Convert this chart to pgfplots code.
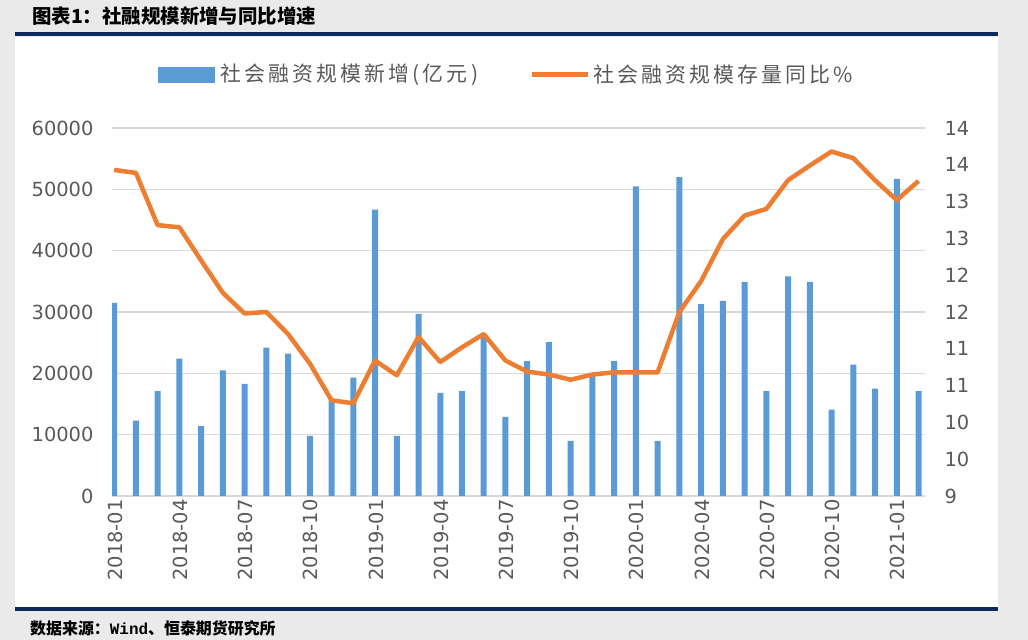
\documentclass[border=0pt]{standalone}
\usepackage{fontspec}
\usepackage{pgfplots}
\usepackage{pgfplotstable}
\pgfplotsset{compat=1.18}
\setmainfont{DejaVu Sans}
\newfontfamily\cjk{Noto Sans CJK SC}
\newfontfamily\cjkls[LetterSpace=15]{Noto Sans CJK SC}
\newfontfamily\mono{Liberation Mono}
\definecolor{barblue}{HTML}{5B9BD5}
\definecolor{lineorange}{HTML}{ED7D31}
\definecolor{navy}{HTML}{0E2A5C}
\definecolor{txtgray}{HTML}{595959}
\definecolor{gridgray}{HTML}{D9D9D9}
\definecolor{bggray}{HTML}{EAEAEA}

\pgfplotstableread{
idx flow yoy
0 31500 13.43
1 12300 13.39
2 17100 12.68
3 22400 12.65
4 11400 12.20
5 20500 11.76
6 18300 11.48
7 24200 11.50
8 23200 11.20
9 9800 10.80
10 15700 10.30
11 19300 10.26
12 46700 10.84
13 9800 10.64
14 29700 11.16
15 16800 10.82
16 17100 11.02
17 26400 11.20
18 12900 10.84
19 22000 10.69
20 25100 10.65
21 9000 10.58
22 19700 10.65
23 22000 10.68
24 50500 10.68
25 9000 10.68
26 52000 11.50
27 31300 11.92
28 31800 12.49
29 34900 12.81
30 17100 12.90
31 35800 13.29
32 34900 13.49
33 14100 13.68
34 21400 13.59
35 17500 13.29
36 51700 13.02
37 17100 13.28
}\datatable

\begin{document}
\begin{tikzpicture}[x=1bp,y=1bp]
\useasboundingbox (0,0) rectangle (1028,640);
\fill[bggray] (0,0) rectangle (1028,640);
\fill[white] (15,33) rectangle (998,603);
\fill[navy] (15,604) rectangle (998,608);
\fill[navy] (15,29) rectangle (998,33);
\node[anchor=west,inner sep=0pt,font=\cjk\bfseries\fontsize{19.5}{20}\selectfont] at (32,624) {图表1：社融规模新增与同比增速};
\node[anchor=west,inner sep=0pt,font=\cjk\bfseries\fontsize{16}{17}\selectfont] at (30,12) {数据来源：{\mono\bfseries Wind}、恒泰期货研究所};

% legend
\fill[barblue] (158,557) rectangle (215,573);
\node[anchor=west,inner sep=0pt,text=txtgray,font=\cjkls\fontsize{21}{22}\selectfont] at (220,565) {社会融资规模新增(亿元)};
\draw[lineorange,line width=5bp] (532,565) -- (588,565);
\node[anchor=west,inner sep=0pt,text=txtgray,font=\cjkls\fontsize{21}{22}\selectfont] at (593,565) {社会融资规模存量同比\%};

\begin{axis}[
  at={(112bp,144bp)}, anchor=south west,
  width=813bp, height=368bp, scale only axis,
  xmin=-0.1, xmax=37.3,
  ymin=0, ymax=60000,
  scaled y ticks=false,
  ytick={0,10000,20000,30000,40000,50000,60000},
  yticklabels={0,10000,20000,30000,40000,50000,60000},
  xtick={0,3,6,9,12,15,18,21,24,27,30,33,36},
  xticklabels={2018-01,2018-04,2018-07,2018-10,2019-01,2019-04,2019-07,2019-10,2020-01,2020-04,2020-07,2020-10,2021-01},
  /pgf/number format/assume math mode=true,
  ymajorgrids, grid style={gridgray,line width=1.3bp},
  axis line style={draw=none},
  tick style={draw=none},
  y tick label style={font=\fontsize{19.5}{20}\selectfont, text=txtgray, xshift=-15bp},
  x tick label style={font=\fontsize{19.5}{20}\selectfont, text=txtgray, rotate=90, anchor=east, yshift=-1bp},
]
\addplot[ybar, bar width=6bp, bar shift=0pt, fill=barblue, draw=none] table[x=idx,y=flow]{\datatable};
\end{axis}

\begin{axis}[
  at={(112bp,144bp)}, anchor=south west,
  width=813bp, height=368bp, scale only axis,
  xmin=-0.1, xmax=37.3,
  ymin=9, ymax=14,
  axis y line*=right, axis x line=none,
  ytick={9,9.5,10,10.5,11,11.5,12,12.5,13,13.5,14},
  yticklabels={9,10,10,11,11,12,12,13,13,14,14},
  /pgf/number format/assume math mode=true,
  axis line style={draw=none},
  tick style={draw=none},
  y tick label style={font=\fontsize{19.5}{20}\selectfont, text=txtgray, xshift=16bp},
]
\addplot[lineorange, line width=4.5bp, line join=round, no markers] table[x=idx,y=yoy]{\datatable};
\end{axis}
\end{tikzpicture}
\end{document}
